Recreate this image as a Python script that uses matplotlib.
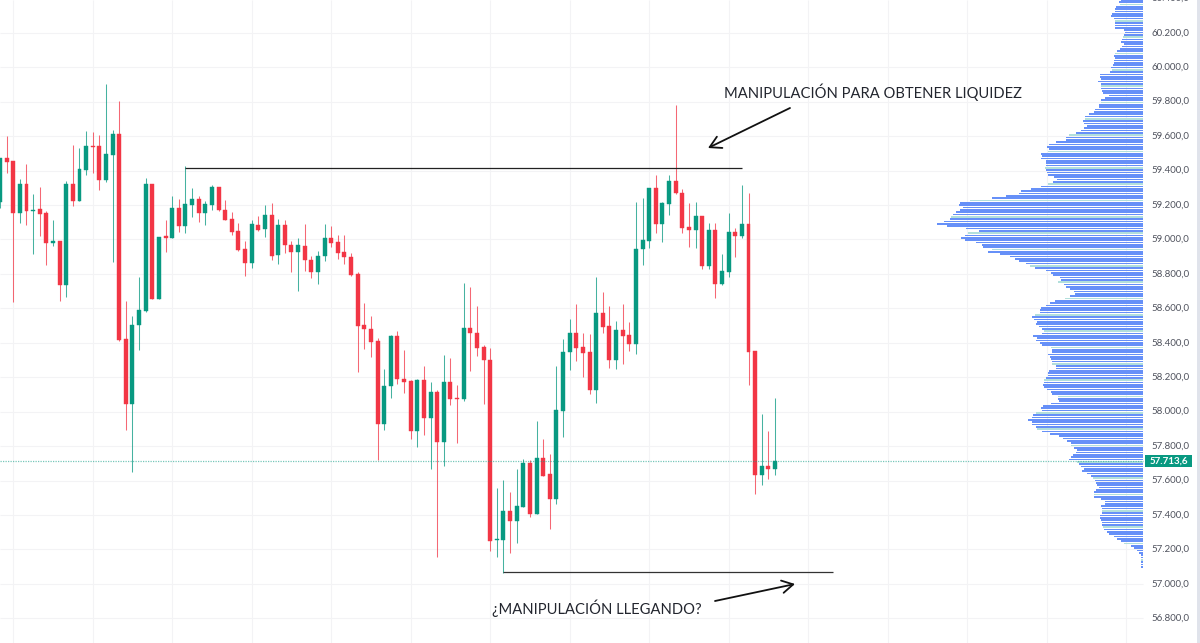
import numpy as np
import matplotlib
matplotlib.use("Agg")
import matplotlib.pyplot as plt

# candles, one value per bar
opens = [59219,59473,59455,59153,59324,59165,59175,59153,58981,58989,58737,59320,59223,59405,59542,59540,59345,59492,59614,58422,58046,58503,58584,59320,58654,59018,59010,59181,59078,59202,59233,59155,59202,59304,59171,59117,59047,58945,58865,59084,
         59059,59144,58908,59084,58968,58925,58964,58881,58813,58902,59010,58983,58927,58900,58799,58501,58482,58408,57926,58149,58437,58191,58180,57889,58184,57963,58114,57825,58174,58079,58073,58486,58458,58375,58302,57254,57254,57425,57365,57448,
         57702,57405,57733,57638,57493,58004,58344,58455,58375,58344,58126,58573,58495,58300,58474,58445,58395,58943,58993,59297,59090,59206,59340,59272,59072,59055,59134,58846,59053,58739,58813,59043,59020,59090,58352,57632,57686,57665]
highs = [59473,59603,59455,59351,59438,59264,59306,59163,59113,58989,59337,59550,59531,59630,59624,59604,59900,59637,59804,58642,58553,58782,59357,59320,59016,59113,59250,59237,59424,59297,59254,59223,59314,59304,59229,59159,59094,58993,59113,59136,
         59200,59210,59117,59113,58993,59006,59090,58904,58933,59088,59078,59024,59026,58919,58809,58633,58555,58426,58247,58445,58468,58358,58184,58187,58265,58174,58125,58329,58311,58155,58745,58726,58613,58385,58371,57556,57603,57535,57669,57723,
         57719,57946,57839,57752,58265,58424,58538,58623,58459,58449,58782,58697,58614,58528,58625,58519,59218,59241,59297,59374,59218,59374,59783,59291,59214,59218,59134,59094,59094,58914,59154,59067,59314,59272,58352,57986,57888,58077]
lows = [59182,59386,58639,59095,59084,58917,59018,58853,58964,58640,58663,59192,59223,59374,59386,59285,59335,58871,58412,57895,57651,58359,58577,58654,58654,58925,59010,59045,59035,59132,59099,59084,59169,59167,59113,59026,58935,58790,58834,59049,
        59016,58881,58859,58923,58811,58700,58819,58776,58739,58873,58956,58888,58859,58788,58230,58364,58317,57719,57893,58081,58160,58106,57839,57792,57862,57665,57154,57686,58036,57820,58064,58238,58325,58042,57190,57154,57066,57181,57235,57448,
        57390,57405,57628,57320,57466,57855,58242,58294,58199,58100,58052,58455,58253,58250,58277,58350,58335,58852,58952,59039,58985,59142,59264,59036,58956,58952,58828,58830,58662,58736,58784,58898,59010,58155,57522,57576,57611,57632]
closes = [59473,59450,59153,59324,59165,59173,59149,58981,58989,58737,59320,59223,59407,59540,59537,59345,59494,59614,58416,58046,58505,58588,59320,58654,59016,59010,59181,59080,59204,59233,59155,59204,59304,59171,59115,59045,58939,58865,59090,59055,
          59144,58906,59084,58968,58925,58966,58881,58813,58906,59010,58981,58923,58896,58793,58497,58478,58406,57926,58149,58437,58187,58174,57889,58184,57963,58114,57825,58174,58073,58073,58486,58455,58371,58300,57248,57258,57423,57365,57452,57702,
          57405,57733,57628,57493,58010,58348,58455,58372,58341,58126,58573,58492,58300,58474,58439,58395,58947,58997,59297,59090,59210,59338,59268,59067,59055,59134,58846,59053,58741,58817,59041,59022,59090,58348,57632,57684,57665,57714]

price_ticks = [60400,60200,60000,59800,59600,59400,59200,59000,58800,58600,58400,58200,58000,57800,57600,57400,57200,57000,56800]
price_labels = ["60.400,0","60.200,0","60.000,0","59.800,0","59.600,0","59.400,0","59.200,0","59.000,0","58.800,0","58.600,0",
                "58.400,0","58.200,0","58.000,0","57.800,0","57.600,0","57.400,0","57.200,0","57.000,0","56.800,0"]
last_price = 57713.6
last_label = "57.713,6"
level_high = 59415
level_low = 57070

# volume profile, top row first
volumes = [22,22,24,23,27,28,28,31,32,29,28,28,28,28,19,18,19,20,21,22,19,21,23,26,28,29,28,29,29,30,32,31,33,43,43,42,45,42,42,42,41,40,34,38,42,42,44,44,48,49,54,58,58,60,59,56,59,62,67,74,77,77,87,94,96,94,95,102,101,102,97,97,97,98,97,96,95,89,86,90,95,102,112,122,124,137,151,173,183,184,180,183,187,190,192,193,199,206,196,177,164,175,178,182,178,167,161,160,151,155,143,133,128,124,117,113,108,97,92,90,83,82,85,79,77,73,69,68,73,78,88,93,97,102,103,103,108,
           111,109,106,107,104,101,99,101,110,106,107,103,101,92,91,91,95,93,92,91,91,87,87,94,95,95,97,99,99,100,99,96,92,91,85,85,84,92,100,102,101,107,110,111,115,111,111,107,106,101,93,84,80,76,72,72,69,66,67,70,72,74,66,64,62,59,61,56,52,50,48,47,46,44,47,49,49,49,42,38,38,42,41,41,41,43,43,42,41,41,40,39,36,34,29,26,22,19,12,9,6,4,2,2,2,2,2,2]
profile_top = 60405
profile_step = 13.55

UP = "#089981"
DOWN = "#F23645"
BAR_PX = 6.624

plt.rcParams['font.family'] = ['Lato', 'DejaVu Sans']

fig = plt.figure(figsize=(12, 6.43), dpi=100)
ax = fig.add_axes([0, 0, 1, 1])
ax.set_xlim(0, 1200 / BAR_PX)
ax.set_ylim(56657, 60390)
ax.axis("off")

right_edge = 1143 / BAR_PX

# grid
ax.hlines(price_ticks, 0, right_edge, color="#f3f3f5", lw=0.8, zorder=1)
ax.vlines(np.arange(2, 172, 12), 56657, 60390, color="#f3f3f5", lw=0.8, zorder=1)

# volume profile on its own axes, growing left from the price scale
ax2 = fig.add_axes([0, 0, 1143 / 1200, 1], sharey=ax)
ax2.set_xlim(1143, 0)
ax2.patch.set_alpha(0)
ax2.axis("off")
rows = profile_top - profile_step * np.arange(len(volumes))
vol_colors = ["#b2dfdb" if i % 7 == 3 else "#6690f8" for i in range(len(volumes))]
ax2.barh(rows, volumes, height=profile_step * 0.65, color=vol_colors, lw=0, zorder=2)

# candles
x = np.arange(len(opens))
colors = [UP if c >= o else DOWN for o, c in zip(opens, closes)]
bottoms = np.minimum(opens, closes)
heights = np.abs(np.array(closes) - np.array(opens))
ax3 = fig.add_axes([0, 0, 1, 1], sharex=ax, sharey=ax)
ax3.patch.set_alpha(0)
ax3.axis("off")
ax3.vlines(x, lows, highs, color=colors, lw=0.75, alpha=0.75, zorder=3)
ax3.bar(x, heights, bottom=bottoms, width=0.6, color=colors, edgecolor=colors, lw=0.3, zorder=4)

# last price line and badge
ax3.hlines(last_price, 0, right_edge, color=UP, lw=0.9, ls=(0, (1, 1)), alpha=0.55, zorder=5)
ax3.barh(last_price, 47 / BAR_PX, height=64, left=1145 / BAR_PX, color=UP, lw=0, zorder=6)
ax3.text(1168.5 / BAR_PX, last_price, last_label, color="white", fontsize=7, fontweight="bold", ha="center", va="center", zorder=7)

for p, lab in zip(price_ticks, price_labels):
    ax3.text(1151 / BAR_PX, p, lab, color="#50535e", fontsize=7, ha="left", va="center", zorder=5)

# right border of the chart
ax3.axvspan(1197 / BAR_PX, 1200 / BAR_PX, color="#e0e3eb", lw=0, zorder=8)

# trend lines
ax3.hlines(level_high, 28, 112, color="#222222", lw=0.9, zorder=6)
ax3.hlines(level_low, 76, 125.8, color="#333333", lw=0.9, zorder=6)

# notes
ax3.text(724 / 1200, 1 - 92 / 643, "MANIPULACIÓN PARA OBTENER LIQUIDEZ", transform=fig.transFigure,
         fontsize=10.6, color="#22252e", ha="left", va="center", zorder=9)
ax3.text(492 / 1200, 1 - 608 / 643, "¿MANIPULACIÓN LLEGANDO?", transform=fig.transFigure,
         fontsize=10.6, color="#22252e", ha="left", va="center", zorder=9)
arrow = dict(arrowstyle="->,head_length=0.8,head_width=0.45", color="#111111", lw=1.3, shrinkA=0, shrinkB=0)
ax3.annotate("", xy=(708 / 1200, 1 - 148 / 643), xytext=(790 / 1200, 1 - 108 / 643),
             xycoords="figure fraction", textcoords="figure fraction", arrowprops=arrow, zorder=9)
ax3.annotate("", xy=(795 / 1200, 1 - 584 / 643), xytext=(715 / 1200, 1 - 601 / 643),
             xycoords="figure fraction", textcoords="figure fraction", arrowprops=arrow, zorder=9)

fig.savefig("out.png", dpi=100)
